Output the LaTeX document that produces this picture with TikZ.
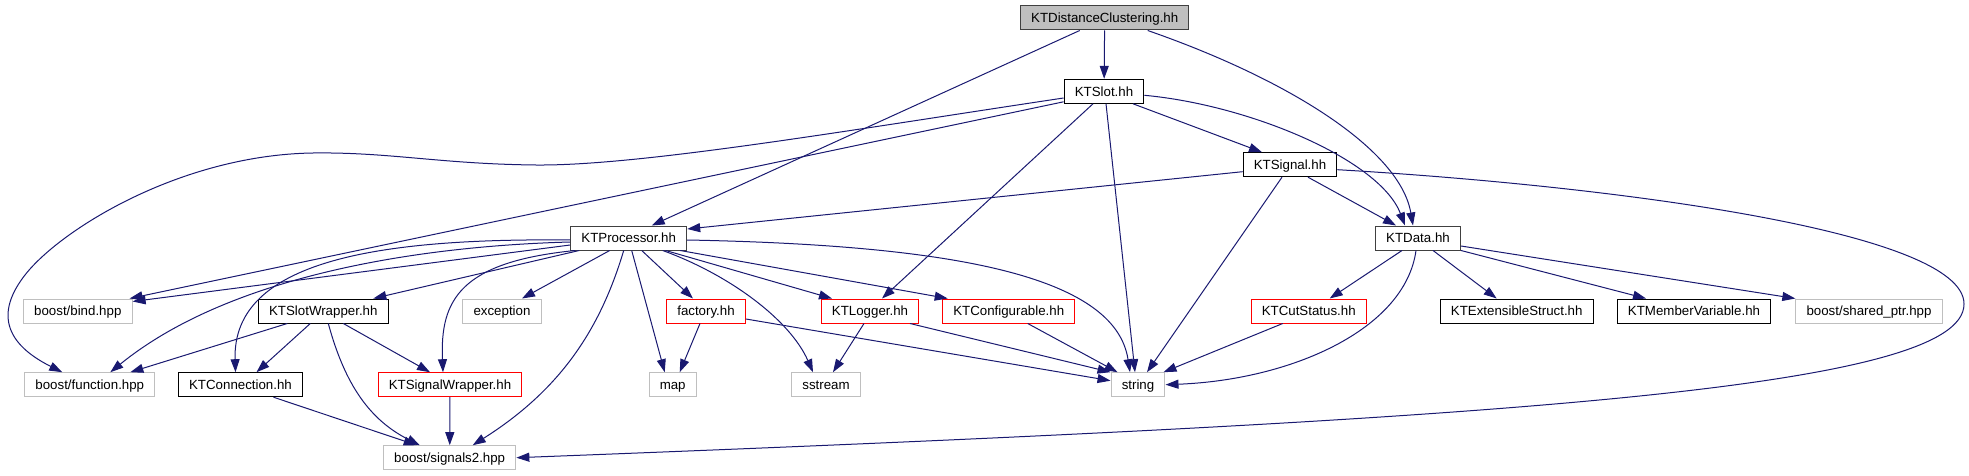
\documentclass[tikz,border=0pt]{standalone}
\usepackage{fontspec}
\setmainfont{Liberation Sans}
\usetikzlibrary{arrows.meta}
\definecolor{edgeblue}{RGB}{25,25,112}
\definecolor{grey75}{RGB}{191,191,191}

\tikzset{
  hdr/.style={draw, line width=1pt, minimum height=24pt, inner xsep=10.7pt,
    inner ysep=0pt, text height=9.5pt, text depth=0pt,
    font=\fontsize{13.3}{16}\selectfont},
  rootfile/.style={hdr, draw=black!75, fill=grey75},
  docfile/.style={hdr, draw=black},
  topfile/.style={hdr, draw=black!75},
  redfile/.style={hdr, draw=red},
  sysfile/.style={hdr, draw=grey75},
  inc/.style={draw=edgeblue, line width=1pt, -{Triangle[length=13pt,width=9pt]}}
}

\begin{document}
\begin{tikzpicture}[x=1pt,y=-1pt]
\useasboundingbox (0,0) rectangle (1969,476);

% rows of headers
\node[rootfile] (dc) at (1104.7,18) {KTDistanceClustering.hh};
\node[docfile] (slot) at (1104,91.3) {KTSlot.hh};
\node[docfile] (signal) at (1290,164.7) {KTSignal.hh};
\node[topfile] (proc) at (628.7,238) {KTProcessor.hh};
\node[topfile] (data) at (1418,238) {KTData.hh};

\node[sysfile] (bind) at (77.8,311) {boost/bind.hpp};
\node[docfile] (slotwrap) at (323.3,311) {KTSlotWrapper.hh};
\node[sysfile] (exception) at (502,311) {exception};
\node[redfile] (factory) at (706,311) {factory.hh};
\node[redfile] (logger) at (870,311) {KTLogger.hh};
\node[redfile] (config) at (1008.7,311) {KTConfigurable.hh};
\node[redfile] (cutstatus) at (1308.7,311) {KTCutStatus.hh};
\node[docfile] (extstruct) at (1516.7,311) {KTExtensibleStruct.hh};
\node[docfile] (membervar) at (1694,311) {KTMemberVariable.hh};
\node[sysfile] (sharedptr) at (1869,311) {boost/shared\_ptr.hpp};

\node[sysfile] (function) at (89.8,384.7) {boost/function.hpp};
\node[docfile] (connection) at (240.5,384.7) {KTConnection.hh};
\node[redfile] (sigwrap) at (450,384.7) {KTSignalWrapper.hh};
\node[sysfile] (map) at (672.7,384.7) {map};
\node[sysfile] (sstream) at (826,384.7) {sstream};
\node[sysfile] (string) at (1138,384.7) {string};

\node[sysfile] (signals2) at (449.7,457.7) {boost/signals2.hpp};

% KTDistanceClustering.hh
\draw[inc] (dc) -- (slot);
\draw[inc] ([xshift=-25pt]dc.south) -- ([xshift=23pt]proc.north);
\draw[inc] ([xshift=43pt]dc.south) .. controls (1290,80) and (1400,150) .. ([xshift=-5pt]data.north);

% KTSlot.hh
\draw[inc] ([xshift=29pt]slot.south) -- ([xshift=-28pt]signal.north);
\draw[inc] ([yshift=-4pt]slot.east) .. controls (1250,105) and (1380,160) .. ([xshift=-13pt]data.north);
\draw[inc] ([xshift=2pt]slot.south) -- ([xshift=-3pt]string.north);
\draw[inc] ([xshift=-11pt]slot.south) -- ([xshift=12pt]logger.north);
\draw[inc] ([yshift=2pt]slot.south west) -- ([xshift=-3pt]bind.north east);
\draw[inc] ([yshift=-6.7pt]slot.west) .. controls (850,130) and (640,166) .. (536,165)
  .. controls (440,164) and (390,152) .. (313,153)
  .. controls (180,155) and (60,230) .. (25,275)
  .. controls (0,307) and (-2,340) .. ([xshift=38pt]function.north west);

% KTSignal.hh
\draw[inc] ([yshift=-7pt]signal.west) -- ([yshift=9pt]proc.east);
\draw[inc] ([xshift=18pt]signal.south) -- ([xshift=-22pt]data.north);
\draw[inc] ([xshift=-8pt]signal.south) -- ([xshift=9pt]string.north);
\draw[inc] ([yshift=-5pt]signal.east) .. controls (1600,185) and (1964,230) .. (1964,304)
  .. controls (1964,390) and (1500,420) .. (signals2.east);

% KTProcessor.hh
\draw[inc] ([yshift=-7pt]proc.west) -- ([yshift=-3pt]bind.north east);
\draw[inc] ([yshift=-4pt]proc.west) .. controls (420,246) and (230,275) .. ([xshift=-45pt]function.north east);
\draw[inc] ([yshift=-2pt]proc.west) .. controls (380,238) and (232,260) .. ([xshift=-5pt]connection.north);
\draw[inc] ([xshift=5pt]proc.south west) .. controls (460,262) and (440,300) .. ([xshift=-7pt]sigwrap.north);
\draw[inc] ([xshift=9pt]proc.south west) -- ([xshift=50pt]slotwrap.north);
\draw[inc] ([xshift=-19pt]proc.south) -- ([xshift=20pt]exception.north);
\draw[inc] ([xshift=-5pt]proc.south) .. controls (600,330) and (560,390) .. ([xshift=23pt]signals2.north);
\draw[inc] ([xshift=3pt]proc.south) -- ([xshift=-8pt]map.north);
\draw[inc] ([xshift=13pt]proc.south) -- ([xshift=-13pt]factory.north);
\draw[inc] ([xshift=34pt]proc.south) .. controls (730,275) and (790,320) .. ([xshift=-13pt]sstream.north);
\draw[inc] ([xshift=37pt]proc.south) -- ([xshift=-38pt]logger.north);
\draw[inc] ([xshift=-7pt]proc.south east) -- ([xshift=-61pt]config.north);
\draw[inc] ([yshift=-2pt]proc.east) .. controls (950,245) and (1115,275) .. ([xshift=-8pt]string.north);

% KTSlotWrapper.hh
\draw[inc] ([xshift=-36pt]slotwrap.south) -- ([xshift=-25pt]function.north east);
\draw[inc] ([xshift=-13pt]slotwrap.south) -- ([xshift=16pt]connection.north);
\draw[inc] ([xshift=5pt]slotwrap.south) .. controls (345,385) and (370,420) .. ([xshift=-30pt]signals2.north);
\draw[inc] ([xshift=20pt]slotwrap.south) -- ([xshift=-20pt]sigwrap.north);

\draw[inc] ([xshift=33pt]connection.south) -- ([xshift=-33pt]signals2.north);
\draw[inc] (sigwrap) -- (signals2);

% red headers
\draw[inc] ([xshift=-6pt]factory.south) -- ([xshift=7pt]map.north);
\draw[inc] ([yshift=-8pt]factory.east) -- ([yshift=4pt]string.west);
\draw[inc] ([xshift=-6pt]logger.south) -- ([xshift=7pt]sstream.north);
\draw[inc] ([xshift=40pt]logger.south) -- (string.north west);
\draw[inc] ([xshift=19pt]config.south) -- ([xshift=7pt]string.north west);
\draw[inc] ([xshift=-26pt]cutstatus.south) -- ([xshift=-2pt]string.north east);

% KTData.hh
\draw[inc] ([xshift=-16pt]data.south) -- ([xshift=21pt]cutstatus.north);
\draw[inc] ([xshift=-2pt]data.south) .. controls (1405,330) and (1290,380) .. (string.east);
\draw[inc] ([xshift=15pt]data.south) -- ([xshift=-20pt]extstruct.north);
\draw[inc] (data.south east) -- ([xshift=-48pt]membervar.north);
\draw[inc] ([yshift=-8pt]data.east) -- (sharedptr.north west);
\end{tikzpicture}
\end{document}
